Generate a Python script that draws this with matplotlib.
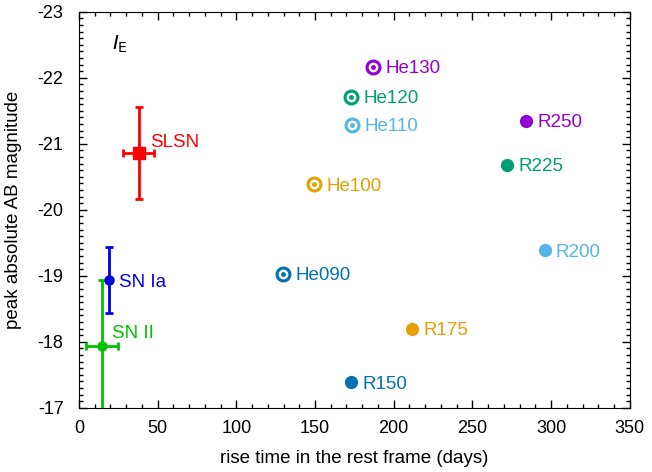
import numpy as np
import matplotlib
matplotlib.use('Agg')
from matplotlib import pyplot as plt
from matplotlib.ticker import MultipleLocator

plt.rcParams['font.family'] = ['Liberation Sans', 'DejaVu Sans']
plt.rcParams['axes.unicode_minus'] = False

# observed classes: rise time, error, peak magnitude, error
obs_names = ['SLSN', 'SN Ia', 'SN II']
obs_x = [38, 19, 14.6]
obs_xerr = [10, 0, 10]
obs_y = [-20.86, -18.93, -17.93]
obs_yerr = [0.7, 0.5, 1.0]
obs_colors = ['#ff0000', '#0000e6', '#00c000']
obs_markers = ['s', 'o', 'o']

# helium models
he_names = ['He090', 'He100', 'He110', 'He120', 'He130']
he_x = [129.5, 149.3, 173.4, 172.8, 186.8]
he_y = [-19.03, -20.39, -21.29, -21.71, -22.17]

# R models
r_names = ['R150', 'R175', 'R200', 'R225', 'R250']
r_x = [172.8, 211.6, 296.0, 271.9, 284.0]
r_y = [-17.39, -18.20, -19.39, -20.68, -21.35]

model_colors = ['#0072b2', '#e69f00', '#56b4e9', '#009e73', '#9400d3']

fs = 13.5

fig = plt.figure(figsize=(6.52, 4.72), dpi=100)
ax = fig.add_axes([0.121, 0.136, 0.845, 0.839])

for i in range(len(obs_names)):
    ax.errorbar(obs_x[i], obs_y[i], xerr=obs_xerr[i] if obs_xerr[i] else None,
                yerr=obs_yerr[i], color=obs_colors[i], marker=obs_markers[i],
                markersize=9 if obs_markers[i] == 's' else 6.5,
                elinewidth=2, capsize=3, capthick=2, zorder=3)

ax.annotate(obs_names[0], (obs_x[0], obs_y[0]), xytext=(8, 9),
            textcoords='offset points', color=obs_colors[0], fontsize=fs,
            va='center_baseline')
ax.annotate(obs_names[1], (obs_x[1], obs_y[1]), xytext=(7, 0),
            textcoords='offset points', color=obs_colors[1], fontsize=fs,
            va='center_baseline')
ax.annotate(obs_names[2], (obs_x[2], obs_y[2]), xytext=(7, 11),
            textcoords='offset points', color=obs_colors[2], fontsize=fs,
            va='center_baseline')

for i in range(len(he_names)):
    c = model_colors[i]
    ax.plot(he_x[i], he_y[i], 'o', color=c, markersize=10.5, zorder=4)
    ax.plot(he_x[i], he_y[i], 'o', color='white', markersize=6, zorder=5)
    ax.plot(he_x[i], he_y[i], 'o', color=c, markersize=2.5, zorder=6)
    ax.annotate(he_names[i], (he_x[i], he_y[i]), xytext=(9, 0),
                textcoords='offset points', color=c, fontsize=fs,
                va='center_baseline')

for i in range(len(r_names)):
    c = model_colors[i]
    ax.plot(r_x[i], r_y[i], 'o', color=c, markersize=8.5, zorder=4)
    ax.annotate(r_names[i], (r_x[i], r_y[i]), xytext=(8, 0),
                textcoords='offset points', color=c, fontsize=fs,
                va='center_baseline')

ax.text(0.06, 0.905, r'$I_{\mathrm{E}}$', transform=ax.transAxes, fontsize=14.5)

ax.set_xlim(0, 350)
ax.set_ylim(-17, -23)
ax.xaxis.set_major_locator(MultipleLocator(50))
ax.xaxis.set_minor_locator(MultipleLocator(10))
ax.yaxis.set_major_locator(MultipleLocator(1))
ax.yaxis.set_minor_locator(MultipleLocator(0.1))
ax.tick_params(which='both', direction='in', top=True, right=True,
               labelsize=13)
ax.tick_params(axis='x', which='major', pad=9)
ax.tick_params(axis='y', which='major', pad=11)
ax.tick_params(which='major', length=6, width=1)
ax.tick_params(which='minor', length=3, width=1)
ax.set_xlabel('rise time in the rest frame (days)', fontsize=fs, labelpad=9)
ax.set_ylabel('peak absolute AB magnitude', fontsize=fs, labelpad=11)

fig.savefig('out.png', dpi=100)
